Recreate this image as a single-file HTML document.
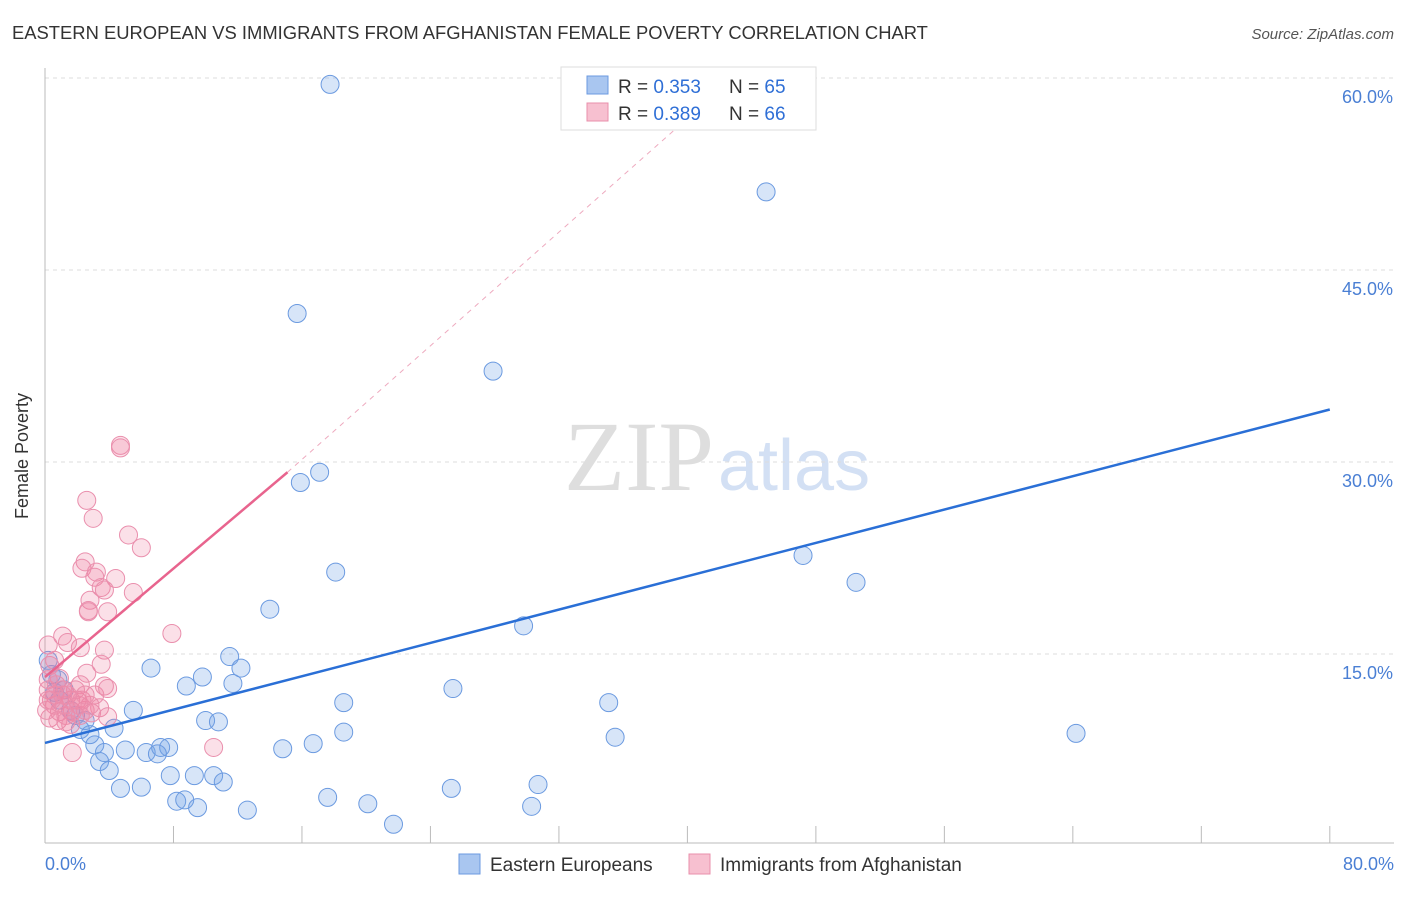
<!DOCTYPE html>
<html><head><meta charset="utf-8"><style>
body{margin:0;background:#fff;font-family:"Liberation Sans",sans-serif;}
</style></head><body>
<svg width="1406" height="892" xmlns="http://www.w3.org/2000/svg" style="font-family:'Liberation Sans',sans-serif">
<text x="12" y="39" font-size="18.4" fill="#333">EASTERN EUROPEAN VS IMMIGRANTS FROM AFGHANISTAN FEMALE POVERTY CORRELATION CHART</text>
<text x="1394" y="39" font-size="15" fill="#555" font-style="italic" text-anchor="end">Source: ZipAtlas.com</text>
<text x="28" y="456" font-size="18" fill="#333" text-anchor="middle" transform="rotate(-90 28 456)">Female Poverty</text>
<text x="714" y="490" font-size="100" fill="#dedede" text-anchor="end" font-family="Liberation Serif">ZIP</text>
<text x="718" y="490" font-size="72" fill="#d3e0f4">atlas</text>
<g id="grid"></g><g id="axes"></g><g id="pts"></g><g id="lines"></g>
<g>
<rect x="561" y="67" width="255" height="63" fill="#fff" stroke="#ddd"/>
<rect x="587" y="76" width="21" height="18" fill="#a9c6f0" stroke="#6b9ae0"/>
<rect x="587" y="103" width="21" height="18" fill="#f7c0d0" stroke="#e88fab"/>
<text x="618" y="93" font-size="19" fill="#333">R = <tspan fill="#2f6fd6">0.353</tspan></text>
<text x="729" y="93" font-size="19" fill="#333">N = <tspan fill="#2f6fd6">65</tspan></text>
<text x="618" y="120" font-size="19" fill="#333">R = <tspan fill="#2f6fd6">0.389</tspan></text>
<text x="729" y="120" font-size="19" fill="#333">N = <tspan fill="#2f6fd6">66</tspan></text>
</g>
<g>
<rect x="459" y="854" width="21" height="20" fill="#a9c6f0" stroke="#6b9ae0"/>
<text x="490" y="871" font-size="19" fill="#333">Eastern Europeans</text>
<rect x="689" y="854" width="21" height="20" fill="#f7c0d0" stroke="#e88fab"/>
<text x="720" y="871" font-size="19" fill="#333">Immigrants from Afghanistan</text>
</g>
</svg>
<script>
const yTicks=[15,30,45,60];
const yTickLabels=["15.0%","30.0%","45.0%","60.0%"];
const xTickCount=10;
const blueX=[17.75,44.9,15.7,27.9,17.1,15.9,18.1,47.2,50.5,14.0,29.8,6.6,11.5,12.2,8.8,9.8,11.7,25.4,18.6,35.1,5.5,10.0,10.8,4.3,2.2,18.6,35.5,64.2,14.8,16.7,3.1,5.0,3.7,6.3,7.2,7.7,7.0,3.4,4.0,7.8,9.3,10.5,11.1,4.7,6.0,25.3,30.7,8.2,8.7,9.5,12.6,17.6,20.1,30.3,21.7,0.6,0.9,1.6,0.2,2.5,2.8,1.2,0.8,1.9,0.4];
const blueY=[59.5,51.1,41.6,37.1,29.2,28.4,21.4,22.7,20.6,18.5,17.2,13.9,14.8,13.9,12.5,13.2,12.7,12.3,11.2,11.2,10.6,9.8,9.7,9.2,9.1,8.9,8.5,8.8,7.6,8.0,7.9,7.5,7.3,7.3,7.7,7.7,7.2,6.6,5.9,5.5,5.5,5.5,5.0,4.5,4.6,4.5,4.8,3.5,3.6,3.0,2.8,3.8,3.3,3.1,1.7,12.0,11.4,10.6,14.5,9.8,8.7,12.2,13.0,10.2,13.4];
const pinkX=[4.7,4.7,2.6,3.0,5.2,6.0,2.5,2.3,3.2,3.1,4.4,3.5,3.7,5.5,2.8,2.7,3.9,2.7,7.9,1.1,1.4,2.2,0.2,3.7,3.5,0.3,2.6,0.9,3.7,2.2,3.1,3.9,1.1,0.2,1.6,2.0,0.6,3.4,2.5,1.7,0.9,1.3,2.9,3.9,0.3,0.6,1.2,1.9,0.8,1.6,0.4,2.2,1.1,2.8,1.7,10.5,0.2,0.6,1.4,2.3,0.1,0.7,2.1,1.3,2.5,0.2];
const pinkY=[31.3,31.1,27.0,25.6,24.3,23.3,22.2,21.7,21.4,21.0,20.9,20.2,20.0,19.8,19.2,18.4,18.3,18.3,16.6,16.4,15.9,15.5,15.7,15.3,14.2,14.1,13.5,13.1,12.5,12.6,11.8,12.3,12.2,12.2,11.4,11.4,11.0,10.8,10.6,10.5,10.5,10.2,10.4,10.1,10.0,11.8,11.0,12.2,9.8,9.5,11.4,10.2,11.8,11.0,7.3,7.7,13.0,14.5,11.8,11.4,10.6,12.6,11.0,9.7,11.8,11.4];
const blueLine=[[0,8.05],[80,34.1]];
const pinkLine=[[0,13.2],[15.1,29.2]];
const pinkDash=[[15.1,29.2],[40.6,57.5]];
const NS="http://www.w3.org/2000/svg";
const sx=v=>45+v*16.06, sy=v=>846-v*12.8;
function mk(t,a,p){const e=document.createElementNS(NS,t);for(const k in a)e.setAttribute(k,a[k]);p.appendChild(e);return e;}
const grid=document.getElementById('grid'),axes=document.getElementById('axes'),pts=document.getElementById('pts'),lines=document.getElementById('lines');
yTicks.forEach((t,i)=>{
 const l=mk('line',{x1:45,x2:1394,y1:sy(t),y2:sy(t),stroke:'#ddd','stroke-dasharray':'4,4'},grid);
 
 
 const tx=mk('text',{x:1393,y:sy(t)+25,'font-size':18,fill:'#4a7fd4','text-anchor':'end'},grid);
 tx.textContent=yTickLabels[i];
 
 
});
const ax=mk('line',{x1:45,x2:45,y1:68,y2:843,stroke:'#bbb'},axes);


const bx=mk('line',{x1:45,x2:1394,y1:843,y2:843,stroke:'#bbb'},axes);


for(let i=0;i<=xTickCount;i++){
 const tk=mk('line',{x1:sx(i*8),x2:sx(i*8),y1:826,y2:843,stroke:'#bbb'},axes);
 
 
}
[[0,"0.0%","start",45],[80,"80.0%","end",1394]].forEach(d=>{
 const t=mk('text',{x:d[3],y:870,'font-size':18,fill:'#4a7fd4','text-anchor':d[2]},axes);
 t.textContent=d[1];
 
 
});
blueX.forEach((v,i)=>{
 const c=mk('circle',{cx:sx(v),cy:sy(blueY[i]),r:9,fill:'rgba(110,160,230,0.28)',stroke:'#6b9ae0','stroke-width':1},pts);
 
 
});
pinkX.forEach((v,i)=>{
 const c=mk('circle',{cx:sx(v),cy:sy(pinkY[i]),r:9,fill:'rgba(240,130,165,0.25)',stroke:'#ea8fad','stroke-width':1},pts);
 
 
});
const bl=mk('line',{x1:sx(blueLine[0][0]),y1:sy(blueLine[0][1]),x2:sx(blueLine[1][0]),y2:sy(blueLine[1][1]),stroke:'#2a6fd6','stroke-width':2.5},lines);


const pl=mk('line',{x1:sx(pinkLine[0][0]),y1:sy(pinkLine[0][1]),x2:sx(pinkLine[1][0]),y2:sy(pinkLine[1][1]),stroke:'#e8648e','stroke-width':2.5},lines);


const pd=mk('line',{x1:sx(pinkDash[0][0]),y1:sy(pinkDash[0][1]),x2:sx(pinkDash[1][0]),y2:sy(pinkDash[1][1]),stroke:'#eeaabf','stroke-width':1,'stroke-dasharray':'5,5'},lines);


</script>
</body></html>
